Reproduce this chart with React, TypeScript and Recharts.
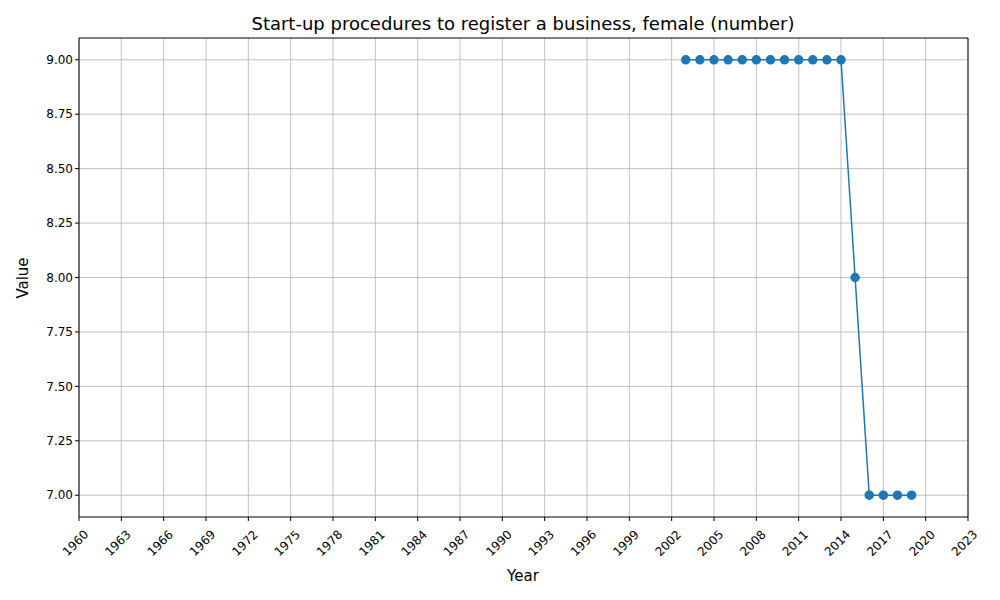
import React from "react";
import {
  LineChart,
  Line,
  XAxis,
  YAxis,
  CartesianGrid,
  ReferenceLine,
} from "recharts";

const years = [2003, 2004, 2005, 2006, 2007, 2008, 2009, 2010, 2011, 2012, 2013, 2014, 2015, 2016, 2017, 2018, 2019];
const values = [9, 9, 9, 9, 9, 9, 9, 9, 9, 9, 9, 9, 8, 7, 7, 7, 7];
const xTicks = [1960, 1963, 1966, 1969, 1972, 1975, 1978, 1981, 1984, 1987, 1990, 1993, 1996, 1999, 2002, 2005, 2008, 2011, 2014, 2017, 2020, 2023];
const yTicks = [7, 7.25, 7.5, 7.75, 8, 8.25, 8.5, 8.75, 9];

const data = years.map((year, i) => ({ year, value: values[i] }));

const font = "DejaVu Sans, sans-serif";

function XTick({ x, y, payload }: any) {
  return (
    <text
      x={x + 4}
      y={y + 6}
      textAnchor="end"
      fontSize={12}
      fontFamily={font}
      fill="#000"
      transform={`rotate(-45, ${x + 4}, ${y + 6})`}
      dominantBaseline="hanging"
    >
      {payload.value}
    </text>
  );
}

export default function App() {
  return (
    <div style={{ position: "absolute", left: 0, top: 0, width: 1000, height: 600, background: "#fff" }}>
      <LineChart
        width={1000}
        height={600}
        data={data}
        margin={{ top: 38, right: 32, bottom: 0, left: 0 }}
      >
        <text x={523} y={30} textAnchor="middle" fontSize={18} fontFamily={font} fill="#000">
          Start-up procedures to register a business, female (number)
        </text>
        <text x={523} y={581} textAnchor="middle" fontSize={15} fontFamily={font} fill="#000">
          Year
        </text>
        <text
          x={28}
          y={278}
          textAnchor="middle"
          fontSize={15}
          fontFamily={font}
          fill="#000"
          transform="rotate(-90, 28, 278)"
        >
          Value
        </text>
        <CartesianGrid stroke="#b0b0b0" strokeWidth={0.8} verticalValues={xTicks} horizontalValues={yTicks} />
        <XAxis
          dataKey="year"
          type="number"
          domain={[1960, 2023]}
          ticks={xTicks}
          interval={0}
          height={83}
          tick={<XTick />}
          tickSize={4}
          stroke="#000"
          tickLine={{ stroke: "#000" }}
        />
        <YAxis
          type="number"
          domain={[6.9, 9.1]}
          ticks={yTicks}
          width={79}
          tickFormatter={(v: number) => v.toFixed(2)}
          tick={{ fontSize: 12, fontFamily: font, fill: "#000" }}
          tickSize={4}
          stroke="#000"
          tickLine={{ stroke: "#000" }}
        />
        <ReferenceLine x={2023} stroke="#000" strokeWidth={1} />
        <ReferenceLine y={9.1} stroke="#000" strokeWidth={1} />
        <Line
          dataKey="value"
          stroke="#1f77b4"
          strokeWidth={1.5}
          dot={{ r: 4, fill: "#1f77b4", stroke: "#1f77b4" }}
          isAnimationActive={false}
        />
      </LineChart>
    </div>
  );
}
